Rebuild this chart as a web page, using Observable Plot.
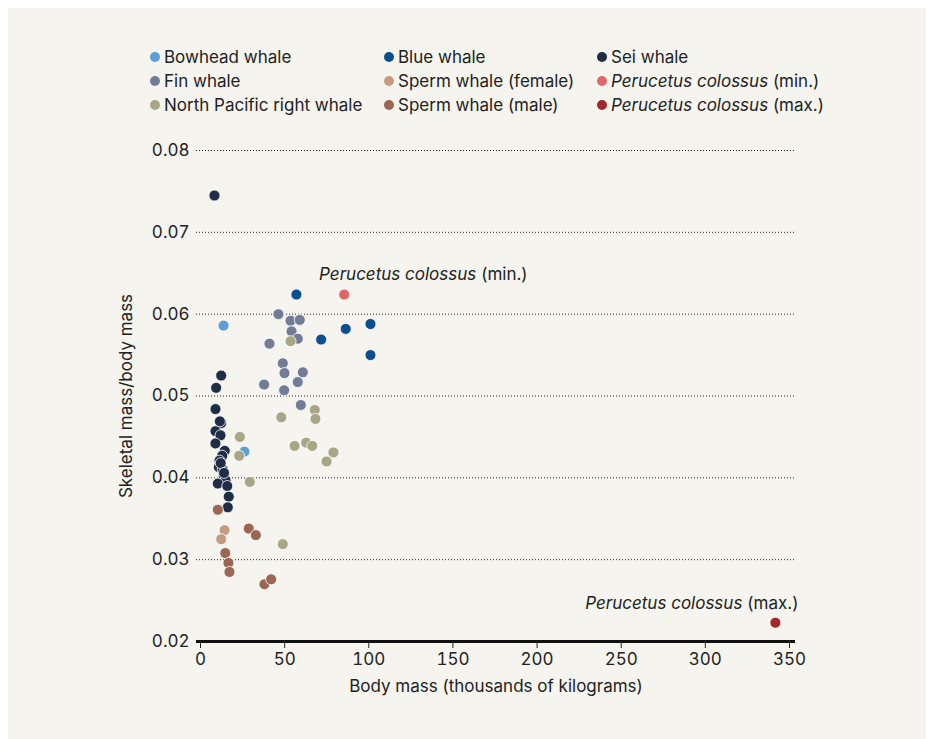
<!DOCTYPE html>
<html>
<head>
<meta charset="utf-8">
<script src="https://cdn.jsdelivr.net/npm/d3@7"></script>
<script src="https://cdn.jsdelivr.net/npm/@observablehq/plot@0.6"></script>
<style>
  html, body { margin: 0; padding: 0; background: #ffffff; }
  body { width: 927px; height: 739px; position: relative; overflow: hidden; font-family: Inter, "Noto Sans", sans-serif; }
  #panel { position: absolute; left: 8px; top: 8px; width: 918px; height: 740px; background: #f5f4ee; }
  #chart { position: absolute; left: 0; top: 0; }
  .leg { position: absolute; font-size: 17px; color: #222; line-height: 20px; white-space: nowrap; transform: translateY(-50%); }
  .leg .dot { position: absolute; left: -14px; top: 5px; width: 10px; height: 10px; border-radius: 50%; }
</style>
</head>
<body>
<div id="panel"></div>
<div id="chart"></div>
<div id="legend"></div>
<script>
// ---- data (body mass in thousands of kg, skeletal mass / body mass) ----
const species = [
  "Bowhead whale", "Blue whale", "Sei whale",
  "Fin whale", "Sperm whale (female)", "Perucetus colossus (min.)",
  "North Pacific right whale", "Sperm whale (male)", "Perucetus colossus (max.)"
];
const colors = [
  "#5b9fd5", "#0c4e8e", "#1f2d47",
  "#737c97", "#c59b81", "#df6767",
  "#a9a686", "#9b6752", "#a4282a"
];
const bowhead = [[13.7, 0.0586], [26.1, 0.0432]];
const blue = [[57.0, 0.0624], [71.7, 0.0569], [86.3, 0.0582], [101.0, 0.0588], [101.0, 0.0550]];
const sei = [
  [8.3, 0.0745], [12.3, 0.0525], [9.3, 0.0510], [8.9, 0.0484], [12.3, 0.0467],
  [11.5, 0.0469], [8.9, 0.0457], [11.9, 0.0452], [8.9, 0.0442], [14.4, 0.0433],
  [12.9, 0.0427], [11.3, 0.0421], [10.9, 0.0413], [13.2, 0.0410], [13.8, 0.0403],
  [14.9, 0.0397], [10.3, 0.0393], [15.9, 0.0390], [16.8, 0.0377], [16.2, 0.0364],
  [12.0, 0.0418], [14.0, 0.0406]
];
const fin = [
  [46.3, 0.0600], [53.5, 0.0592], [59.0, 0.0593], [54.1, 0.0579], [57.8, 0.0570],
  [41.0, 0.0564], [48.9, 0.0540], [49.9, 0.0528], [60.8, 0.0529], [37.8, 0.0514],
  [57.8, 0.0517], [49.7, 0.0507], [59.6, 0.0489]
];
const spermFemale = [[14.3, 0.0336], [12.3, 0.0325]];
const perucetusMin = [[85.4, 0.0624]];
const rightWhale = [
  [53.5, 0.0567], [67.9, 0.0483], [48.0, 0.0474], [68.3, 0.0472], [23.4, 0.0450],
  [23.0, 0.0427], [55.9, 0.0439], [62.8, 0.0443], [66.4, 0.0439], [79.0, 0.0431],
  [74.9, 0.0420], [29.3, 0.0395], [48.9, 0.0319]
];
const spermMale = [
  [10.3, 0.0361], [28.7, 0.0338], [32.9, 0.0330], [14.7, 0.0308], [16.6, 0.0296],
  [17.2, 0.0285], [38.0, 0.0270], [42.0, 0.0276]
];
const perucetusMax = [[341.6, 0.0223]];

const xTicks = [0, 50, 100, 150, 200, 250, 300, 350];
const yTicks = [0.02, 0.03, 0.04, 0.05, 0.06, 0.07, 0.08];
const gridTicks = [0.03, 0.04, 0.05, 0.06, 0.07, 0.08];
const xLabel = "Body mass (thousands of kilograms)";
const yLabel = "Skeletal mass/body mass";

const groups = [
  [bowhead, "Bowhead whale"], [blue, "Blue whale"], [sei, "Sei whale"],
  [fin, "Fin whale"], [spermFemale, "Sperm whale (female)"],
  [rightWhale, "North Pacific right whale"], [spermMale, "Sperm whale (male)"],
  [perucetusMin, "Perucetus colossus (min.)"], [perucetusMax, "Perucetus colossus (max.)"]
];
const data = groups.flatMap(([arr, sp]) => arr.map(([mass, ratio]) => ({mass, ratio, species: sp})));
const minPt = data.filter(d => d.species === "Perucetus colossus (min.)");
const maxPt = data.filter(d => d.species === "Perucetus colossus (max.)");

const FS = 17;
const chart = Plot.plot({
  width: 927,
  height: 739,
  marginLeft: 196,
  marginRight: 132,
  marginTop: 150,
  marginBottom: 98,
  style: {background: "transparent", fontFamily: "Inter, 'Noto Sans', sans-serif", fontSize: FS + "px", color: "#222"},
  x: {domain: [0, 350], insetLeft: 4, insetRight: 6},
  y: {domain: [0.02, 0.08]},
  color: {domain: species, range: colors},
  marks: [
    Plot.ruleY(gridTicks, {stroke: "#222", strokeDasharray: "1,2", strokeWidth: 1}),
    Plot.ruleY([0.02], {stroke: "#111", strokeWidth: 3}),
    Plot.axisX({ticks: xTicks, tickSize: 7, tickPadding: 4, tickFormat: d => String(d), label: null, stroke: "#222", fontSize: FS}),
    Plot.axisY({ticks: yTicks, tickSize: 0, tickPadding: 7, tickFormat: d3.format(".2f"), label: null, fontSize: FS}),
    Plot.text([xLabel], {frameAnchor: "bottom", dy: 50, fontSize: FS, fill: "#222"}),
    Plot.text([yLabel], {frameAnchor: "left", dx: -70, rotate: -90, textAnchor: "middle", fontSize: FS, fill: "#222"}),
    Plot.dot(data, {x: "mass", y: "ratio", fill: "species", r: 5.5, stroke: "#ffffff", strokeWidth: 0.8}),
    Plot.text(minPt, {x: "mass", y: "ratio", text: () => "Perucetus colossus", fontStyle: "italic", textAnchor: "end", dx: 132, dy: -20, fontSize: FS, fill: "#222"}),
    Plot.text(minPt, {x: "mass", y: "ratio", text: () => "(min.)", textAnchor: "start", dx: 137, dy: -20, fontSize: FS, fill: "#222"}),
    Plot.text(maxPt, {x: "mass", y: "ratio", text: () => "Perucetus colossus", fontStyle: "italic", textAnchor: "end", dx: -33, dy: -19, fontSize: FS, fill: "#222"}),
    Plot.text(maxPt, {x: "mass", y: "ratio", text: () => "(max.)", textAnchor: "start", dx: -28, dy: -19, fontSize: FS, fill: "#222"})
  ]
});
document.getElementById("chart").appendChild(chart);

// legend (3 columns x 3 rows)
const legCols = [164, 398, 611];
const legRows = [57, 81, 105];
const legend = document.getElementById("legend");
species.forEach((sp, i) => {
  const el = document.createElement("div");
  el.className = "leg";
  el.style.left = legCols[i % 3] + "px";
  el.style.top = legRows[Math.floor(i / 3)] + "px";
  const dot = document.createElement("span");
  dot.className = "dot";
  dot.style.background = colors[i];
  el.appendChild(dot);
  if (sp.startsWith("Perucetus colossus")) {
    const it = document.createElement("i");
    it.textContent = "Perucetus colossus";
    el.appendChild(it);
    el.appendChild(document.createTextNode(sp.slice("Perucetus colossus".length)));
  } else {
    el.appendChild(document.createTextNode(sp));
  }
  legend.appendChild(el);
});
</script>
</body>
</html>
